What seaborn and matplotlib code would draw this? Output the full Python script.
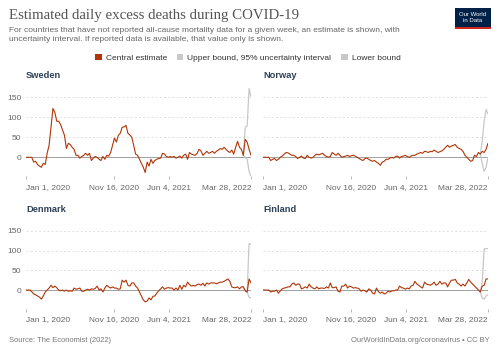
import numpy as np
import pandas as pd
import matplotlib
matplotlib.use("Agg")
import matplotlib.pyplot as plt
import matplotlib.dates as mdates
from matplotlib.patches import Patch, Rectangle
import seaborn as sns

# weekly values, Jan 1 2020 -> Mar 28 2022 (118 points)
sweden = [0, 0, 0, 0, -12, -10, -18, -22, -25, -15,
          -18, 10, 30, 75, 122, 112, 90, 90, 82, 68,
          55, 22, 35, 32, 25, 20, 5, 5, -2, 2,
          5, 10, 5, 10, -8, -2, 2, 0, -5, -8,
          2, -5, 5, 3, 12, 30, 48, 38, 55, 60,
          75, 76, 80, 60, 56, 50, 30, 8, 5, -5,
          -15, -25, -38, -12, -22, -5, -15, -8, -5, -3,
          -2, 10, 8, 2, 0, 2, 0, 2, -2, 0,
          3, -2, 5, 8, -5, 12, 8, 6, 5, 10,
          20, 16, 5, 10, 15, 10, 12, 15, 10, 15,
          18, 22, 20, 25, 20, 15, 12, 18, 8, 25,
          40, 25, 20, 5, 45, 38, 20, 5]
norway = [0, 0, 0, 0, -8, -5, -3, -8, -5, 0,
          3, 8, 12, 11, 8, 5, 5, 2, -3, 0,
          3, -2, -3, 5, 0, -2, 0, 5, 8, 6,
          8, 10, 5, 2, 0, 2, 12, 8, 5, 10,
          5, 0, 2, 3, 5, 2, 4, 5, 3, 0,
          -3, -6, -8, -3, -2, -5, -8, -10, -8, -12,
          -15, -20, -12, -10, -5, -5, -2, 0, -2, 2,
          3, -2, 2, 3, 5, 2, 0, 3, 5, 5,
          8, 10, 12, 10, 15, 14, 12, 15, 14, 18,
          15, 12, 14, 16, 20, 25, 30, 25, 28, 30,
          32, 25, 22, 20, 15, 5, 0, -5, -10, -8,
          5, 2, 12, 8, 15, 12, 20, 35]
denmark = [0, 0, 0, -4, -10, -12, -15, -18, -23, -15,
           -5, 0, 5, 12, 6, 10, 6, 0, -2, 0,
           -3, 0, -3, -2, -3, 5, 2, 3, 5, -3,
           -3, 0, 2, 0, 3, 2, 4, 10, 0, 3,
           -5, 5, 12, 8, 5, 8, 5, 5, 2, 3,
           25, 20, 25, 12, 10, 18, 18, 10, 5, -5,
           -15, -25, -30, -28, -20, -25, -16, -15, -8, -2,
           3, 8, 2, 5, 6, 5, 5, 0, 5, 0,
           12, 2, 12, 8, 20, 14, 10, 12, 10, 14,
           15, 12, 17, 10, 18, 15, 18, 18, 18, 16,
           18, 20, 20, 22, 25, 28, 22, 8, 6, 6,
           8, 3, 8, 8, -2, -5, 28, 18]
finland = [0, 0, 0, 0, -5, -3, -3, 0, -8, -2,
           3, 5, 6, 8, 8, 15, 18, 12, 15, 15,
           3, 5, 8, 5, 15, 8, 5, 3, 8, 3,
           5, 5, 4, 8, 5, 18, 6, 6, 8, -3,
           -5, 10, 10, 15, 5, 10, 8, 5, 6, 5,
           3, -3, 0, -2, -5, 3, 0, -8, -10, 5,
           -4, -8, -5, -10, -8, -3, -5, -2, -2, 0,
           0, 10, 6, 5, 2, 5, 3, 10, 12, 22,
           15, 12, 8, 5, 20, 15, 14, 12, 15, 20,
           12, 15, 22, 15, 18, 18, 8, 18, 25, 25,
           27, 18, 15, 10, 15, 10, 18, 27, 20, 15,
           10, 5, 0, -5, 10, 12, 28, 28]

# uncertainty interval, last five weeks only
sweden_upper = [5, 75, 78, 172, 150]
sweden_lower = [5, 0, -5, -35, -48]
norway_upper = [8, 40, 90, 120, 108]
norway_lower = [8, -15, -35, -25, 0]
denmark_upper = [8, -2, -5, 118, 115]
denmark_lower = [8, -2, -5, -18, -20]
finland_upper = [-5, 20, 104, 105, 105]
finland_lower = [-5, -20, -23, -15, -12]

countries = ["Sweden", "Norway", "Denmark", "Finland"]
central = [sweden, norway, denmark, finland]
uppers = [sweden_upper, norway_upper, denmark_upper, finland_upper]
lowers = [sweden_lower, norway_lower, denmark_lower, finland_lower]

tick_dates = ["2020-01-01", "2020-11-16", "2021-06-04", "2022-03-28"]
tick_labels = ["Jan 1, 2020", "Nov 16, 2020", "Jun 4, 2021", "Mar 28, 2022"]
y_ticks = [0, 50, 100, 150]

start, end = pd.Timestamp(tick_dates[0]), pd.Timestamp(tick_dates[-1])
dates = pd.date_range(start, end, periods=len(sweden))

RED = "#b13507"
GREY = "#c8c8c8"

sns.set_theme(style="white")
plt.rcParams["font.family"] = ["Liberation Sans", "DejaVu Sans"]

W, H = 500, 353
fig = plt.figure(figsize=(5, 3.53), dpi=100)
fig.patch.set_facecolor("white")


def px(x, y):
    return x / W, 1 - y / H


ymin, ymax = -47, 175
# (left px, top px, bottom px) for each panel
boxes = [(26, 87.3, 176.1), (263, 87.3, 176.1),
         (26, 220.9, 308.6), (263, 220.9, 308.6)]
pw = 225

for k, name in enumerate(countries):
    left, top, bot = boxes[k]
    ax = fig.add_axes([left / W, 1 - bot / H, pw / W, (bot - top) / H])
    df = pd.DataFrame({"date": dates, "value": central[k]})
    tail = pd.DataFrame({"date": dates[-5:], "upper": uppers[k], "lower": lowers[k]})

    for yv in y_ticks[1:]:
        ax.axhline(yv, color="#dddddd", lw=0.6, ls=(0, (2.5, 2.5)), zorder=0)
    ax.axhline(0, color="#a0a0a0", lw=0.7, zorder=1)

    sns.lineplot(data=tail, x="date", y="upper", ax=ax, color=GREY, lw=0.9)
    sns.lineplot(data=tail, x="date", y="lower", ax=ax, color=GREY, lw=0.9)
    sns.lineplot(data=df, x="date", y="value", ax=ax, color=RED, lw=0.8)

    ax.set_xlim(start, end)
    ax.set_ylim(ymin, ymax)
    ax.set_xlabel("")
    ax.set_ylabel("")
    for s in ax.spines.values():
        s.set_visible(False)
    ax.set_facecolor("none")

    ax.set_xticks([pd.Timestamp(d) for d in tick_dates])
    ax.set_xticklabels(tick_labels)
    labs = ax.get_xticklabels()
    labs[0].set_ha("left")
    labs[-1].set_ha("right")
    ax.tick_params(axis="x", length=2.5, width=0.5, color="#999999",
                   labelsize=6, labelcolor="#666666", pad=3, bottom=True)
    ax.set_yticks(y_ticks)
    if k % 2 == 0:
        ax.tick_params(axis="y", length=0, labelsize=6, labelcolor="#666666", pad=3.5)
    else:
        ax.tick_params(axis="y", length=0, labelleft=False)

    tx, ty = px(left, top - 11.5)
    fig.text(tx, ty, name, fontsize=6.7, fontweight="bold", color="#2e4057",
             ha="left", va="center")

# header
fig.text(*px(9, 16), "Estimated daily excess deaths during COVID-19",
         family=["Liberation Serif", "DejaVu Serif"], fontsize=10.7,
         color="#555555", ha="left", va="center")
fig.text(*px(9, 35),
         "For countries that have not reported all-cause mortality data for a given week, an estimate is shown, with\n"
         "uncertainty interval. If reported data is available, that value only is shown.",
         fontsize=6.0, color="#666666", ha="left", va="center", linespacing=1.25)

handles = [Patch(facecolor=RED, edgecolor="none"),
           Patch(facecolor=GREY, edgecolor="none"),
           Patch(facecolor=GREY, edgecolor="none")]
fig.legend(handles, ["Central estimate", "Upper bound, 95% uncertainty interval", "Lower bound"],
           loc="center", bbox_to_anchor=px(248, 58), ncol=3, frameon=False,
           fontsize=6.0, handlelength=0.75, handleheight=0.75, handletextpad=0.5,
           columnspacing=1.2, labelcolor="#333333", borderaxespad=0)

# logo
lx, ly = px(455, 29)
fig.patches.append(Rectangle((lx, ly), 36 / W, 21 / H, transform=fig.transFigure,
                             facecolor="#002147", edgecolor="none"))
fig.patches.append(Rectangle((lx, ly), 36 / W, 2 / H, transform=fig.transFigure,
                             facecolor="#ce261e", edgecolor="none"))
fig.text(*px(473, 17.5), "Our World\nin Data", fontsize=4.3, color="white",
         ha="center", va="center", linespacing=1.0)

# footer
fig.text(*px(9, 340), "Source: The Economist (2022)", fontsize=5.4,
         color="#777777", ha="left", va="center")
fig.text(*px(490, 340), "OurWorldInData.org/coronavirus \u2022 CC BY", fontsize=5.4,
         color="#777777", ha="right", va="center")

fig.savefig("out.png", dpi=100, facecolor="white")
